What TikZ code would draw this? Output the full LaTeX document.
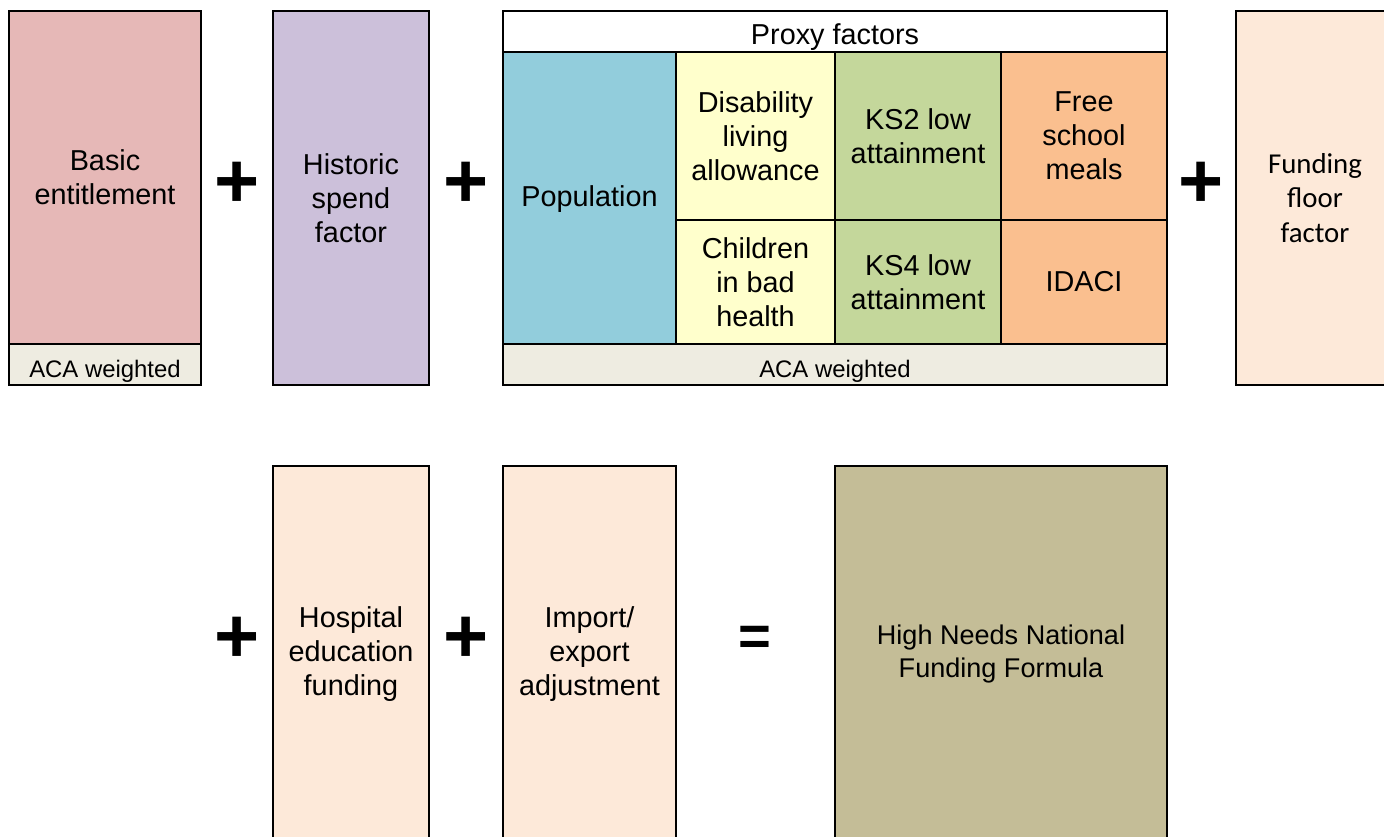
\documentclass[tikz,border=0pt]{standalone}
\usepackage{fontspec}
\setmainfont{Liberation Sans}
\newfontfamily\calfont{Carlito}
\definecolor{basiccol}{HTML}{E6B8B7}
\definecolor{histcol}{HTML}{CCC0DA}
\definecolor{acacol}{HTML}{EEECE1}
\definecolor{popcol}{HTML}{92CDDC}
\definecolor{dlacol}{HTML}{FFFFCC}
\definecolor{kscol}{HTML}{C4D79B}
\definecolor{fsmcol}{HTML}{FABF8F}
\definecolor{floorcol}{HTML}{FDE9D9}
\definecolor{hnfcol}{HTML}{C4BD97}

\begin{document}
\begin{tikzpicture}[x=0.02cm,y=-0.02cm,
		box/.style={draw=black,line width=1.1pt},
		lbl/.style={align=center,font=\fontsize{16.4}{19.3}\selectfont},
		acalbl/.style={align=center,font=\fontsize{13.6}{15}\selectfont},
		oplbl/.style={font=\fontsize{44}{44}\selectfont\bfseries}]
				\useasboundingbox (0,0) rectangle (1384,836);
				% top row
				\draw[box,fill=basiccol] (9,11) rectangle (201,344);
				\draw[box,fill=acacol] (9,344) rectangle (201,385);
				\node[lbl] (basic) at (105,177) {Basic\\entitlement};
				\node[acalbl] (basicaca) at (105,371) {ACA weighted};
				\node[oplbl] (plusa) at (237,185) {+};
				\draw[box,fill=histcol] (273,11) rectangle (429,385);
				\node[lbl] (hist) at (351,198) {Historic\\spend\\factor};
				\node[oplbl] (plusb) at (466,185) {+};
				% proxy factors block
				\draw[box,fill=white] (503,11) rectangle (1167,52);
				\node[lbl] (proxy) at (835,37) {Proxy factors};
				\draw[box,fill=popcol] (503,52) rectangle (676,344);
				\draw[box,fill=dlacol] (676,52) rectangle (835,220);
				\draw[box,fill=dlacol] (676,220) rectangle (835,344);
				\draw[box,fill=kscol] (835,52) rectangle (1001,220);
				\draw[box,fill=kscol] (835,220) rectangle (1001,344);
				\draw[box,fill=fsmcol] (1001,52) rectangle (1167,220);
				\draw[box,fill=fsmcol] (1001,220) rectangle (1167,344);
				\draw[box,fill=acacol] (503,344) rectangle (1167,385);
				\node[lbl] (pop) at (589.5,199) {Population};
				\node[lbl] (dla) at (755.5,136) {Disability\\living\\allowance};
				\node[lbl] (health) at (755.5,282) {Children\\in bad\\health};
				\node[lbl] (kstwo) at (918,136) {KS2 low\\attainment};
				\node[lbl] (ksfour) at (918,282) {KS4 low\\attainment};
				\node[lbl] (fsm) at (1084,136) {Free\\school\\meals};
				\node[lbl] (idaci) at (1084,282) {IDACI};
				\node[acalbl] (proxyaca) at (835,371) {ACA weighted};
				\node[oplbl] (plusc) at (1201,185) {+};
				\draw[box,fill=floorcol] (1236,11) rectangle (1400,385);
				\node[lbl,font=\calfont\fontsize{16.4}{19.8}\selectfont] (floor) at (1315,198) {Funding\\floor\\factor};
				% bottom row
				\node[oplbl] (plusd) at (237,640) {+};
				\draw[box,fill=floorcol] (273,466) rectangle (429,850);
				\node[lbl] (hosp) at (351,654) {Hospital\\education\\funding};
				\node[oplbl] (pluse) at (466,640) {+};
				\draw[box,fill=floorcol] (503,466) rectangle (676,850);
				\node[lbl] (impexp) at (589.5,654) {Import/\\export\\adjustment};
				\node[font=\fontsize{32}{32}\selectfont\bfseries] (equals) at (755,641) {=};
				\draw[box,fill=hnfcol] (835,466) rectangle (1167,850);
				\node[lbl,font=\fontsize{15.4}{18.7}\selectfont] (hnff) at (1001,654) {High Needs National\\Funding Formula};
			\end{tikzpicture}
\end{document}
